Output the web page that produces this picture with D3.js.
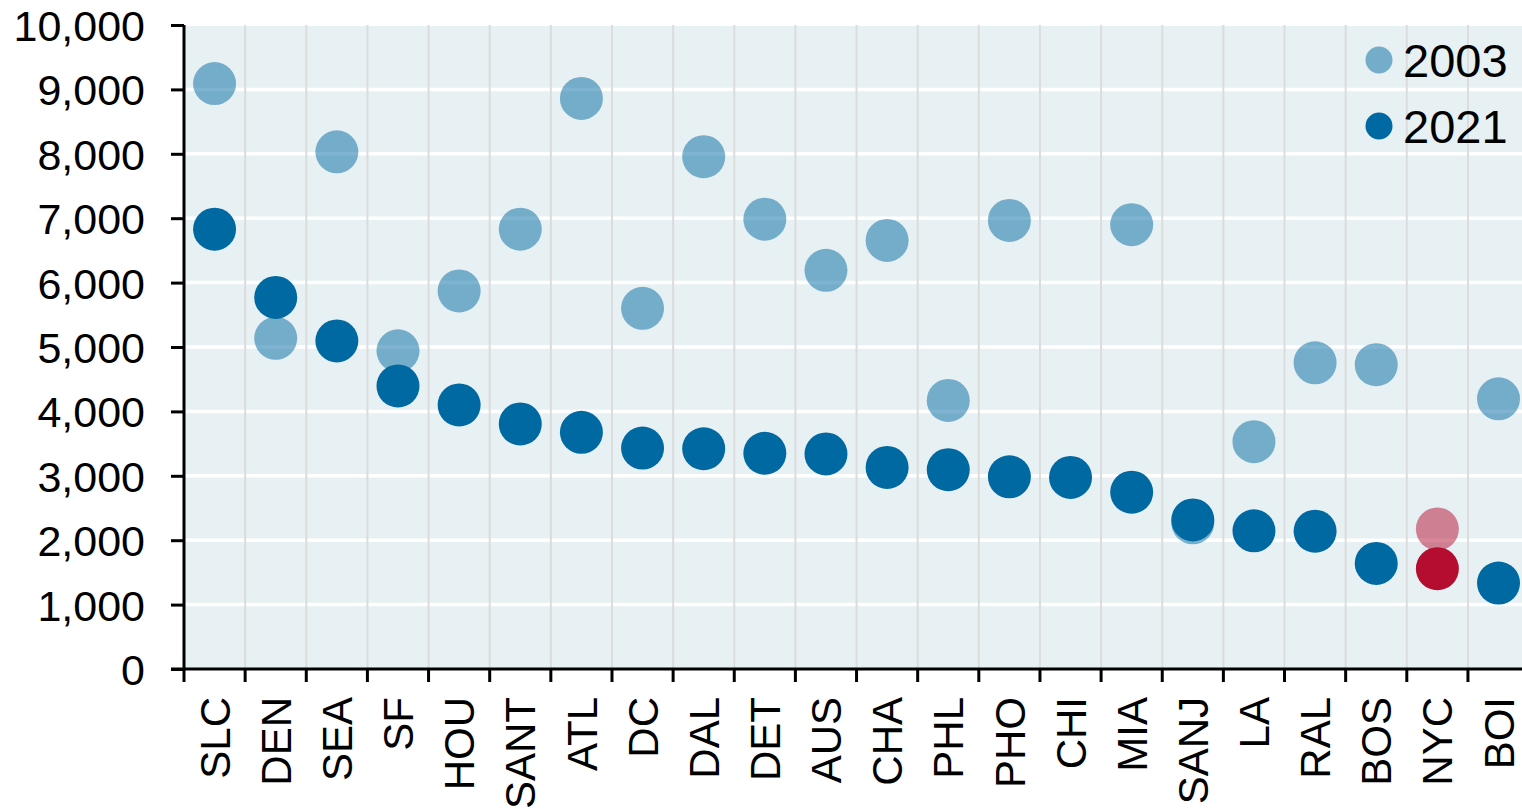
<!DOCTYPE html>
<html>
<head>
<meta charset="utf-8">
<script src="https://cdn.jsdelivr.net/npm/d3@7"></script>
<style>
  html, body { margin: 0; padding: 0; background: #ffffff; }
  svg { display: block; }
  text { font-family: "Liberation Sans", Arial, sans-serif; fill: #000; }
</style>
</head>
<body>
<svg id="chart" width="1522" height="809"></svg>
<script>
const categories = ["SLC","DEN","SEA","SF","HOU","SANT","ATL","DC","DAL","DET","AUS","CHA","PHL","PHO","CHI","MIA","SANJ","LA","RAL","BOS","NYC","BOI"];
const values2003 = [9090, 5135, 8030, 4940, 5870, 6830, 8860, 5600, 7955, 6985, 6190, 6655, 4170, 6965, null, 6900, 2270, 3530, 4755, 4725, 2175, 4195];
const values2021 = [6830, 5770, 5095, 4395, 4100, 3805, 3675, 3430, 3420, 3350, 3340, 3130, 3095, 2985, 2975, 2745, 2315, 2145, 2140, 1640, 1557, 1335];
const yTicks = [0, 1000, 2000, 3000, 4000, 5000, 6000, 7000, 8000, 9000, 10000];
const seriesNames = ["2003", "2021"];
const highlight = "NYC";

(function () {
const svg = d3.select("#chart");
const mLeft = 184, mTop = 25, mBottom = 669;
const band = 61.14;
const x = d3.scaleBand().domain(categories).range([mLeft, mLeft + band * categories.length]).padding(0);
const y = d3.scaleLinear().domain([0, 10000]).range([mBottom, mTop]);

const blue = "#0069a2", red = "#b50d30", bg = "#e7f0f3";

// background
svg.append("rect").attr("x", mLeft).attr("y", mTop + 1).attr("width", x.range()[1] - mLeft).attr("height", mBottom - mTop - 1).attr("fill", bg);

// horizontal gridlines
svg.append("g").selectAll("line").data(yTicks.filter(t => t > 0 && t < 10000)).join("line")
  .attr("x1", mLeft).attr("x2", x.range()[1])
  .attr("y1", d => y(d)).attr("y2", d => y(d))
  .attr("stroke", "#ffffff").attr("stroke-width", 3.5);

// vertical gridlines at band boundaries
svg.append("g").selectAll("line").data(categories.slice(1)).join("line")
  .attr("x1", d => x(d)).attr("x2", d => x(d))
  .attr("y1", mTop).attr("y2", mBottom)
  .attr("stroke", "#dcdcdc").attr("stroke-width", 2);

// dots
const rows = categories.map((c, i) => ({ c, v03: values2003[i], v21: values2021[i] }));
const cx = d => x(d.c) + x.bandwidth() / 2;
svg.append("g").selectAll("circle").data(rows.filter(d => d.v03 != null)).join("circle")
  .attr("cx", cx).attr("cy", d => y(d.v03)).attr("r", 21.5)
  .attr("fill", d => d.c === highlight ? red : blue).attr("fill-opacity", 0.5);
svg.append("g").selectAll("circle").data(rows.filter(d => d.v21 != null)).join("circle")
  .attr("cx", cx).attr("cy", d => y(d.v21)).attr("r", 21.5)
  .attr("fill", d => d.c === highlight ? red : blue);

// y axis
const yAxis = d3.axisLeft(y).tickValues(yTicks).tickFormat(d3.format(",")).tickSize(13).tickPadding(26);
const gy = svg.append("g").attr("transform", `translate(${mLeft},0)`).call(yAxis);
gy.select(".domain").attr("stroke", "#000").attr("stroke-width", 3).attr("d", `M0,${mTop}V${mBottom}`);
gy.selectAll(".tick line").attr("stroke", "#000").attr("stroke-width", 3);
gy.selectAll(".tick text").style("font-size", "43px").attr("font-family", "Liberation Sans, Arial, sans-serif").attr("fill", "#000").attr("dy", "0.36em");

// x axis line and boundary ticks
svg.append("line").attr("x1", mLeft - 13).attr("x2", x.range()[1]).attr("y1", mBottom).attr("y2", mBottom)
  .attr("stroke", "#000").attr("stroke-width", 3);
svg.append("g").selectAll("line").data(categories).join("line")
  .attr("x1", d => x(d)).attr("x2", d => x(d))
  .attr("y1", mBottom).attr("y2", mBottom + 13)
  .attr("stroke", "#000").attr("stroke-width", 3);

// x labels
const xAxis = d3.axisBottom(x).tickSize(0).tickPadding(0);
const gx = svg.append("g").attr("transform", `translate(0,${mBottom})`).call(xAxis);
gx.select(".domain").remove();
gx.selectAll(".tick text")
  .attr("transform", "translate(0,28) rotate(-90)")
  .attr("x", 0).attr("y", 0).attr("dy", "0.36em")
  .attr("text-anchor", "end")
  .style("font-size", "42px").attr("font-family", "Liberation Sans, Arial, sans-serif").attr("fill", "#000");

// legend
const legend = svg.append("g");
const legY = [60, 126];
seriesNames.forEach((name, i) => {
  legend.append("circle").attr("cx", 1379).attr("cy", legY[i]).attr("r", 13.5)
    .attr("fill", blue).attr("fill-opacity", i === 0 ? 0.5 : 1);
  legend.append("text").attr("x", 1403).attr("y", legY[i]).attr("dy", "0.36em")
    .style("font-size", "47px").text(name);
});
})();
</script>
</body>
</html>
